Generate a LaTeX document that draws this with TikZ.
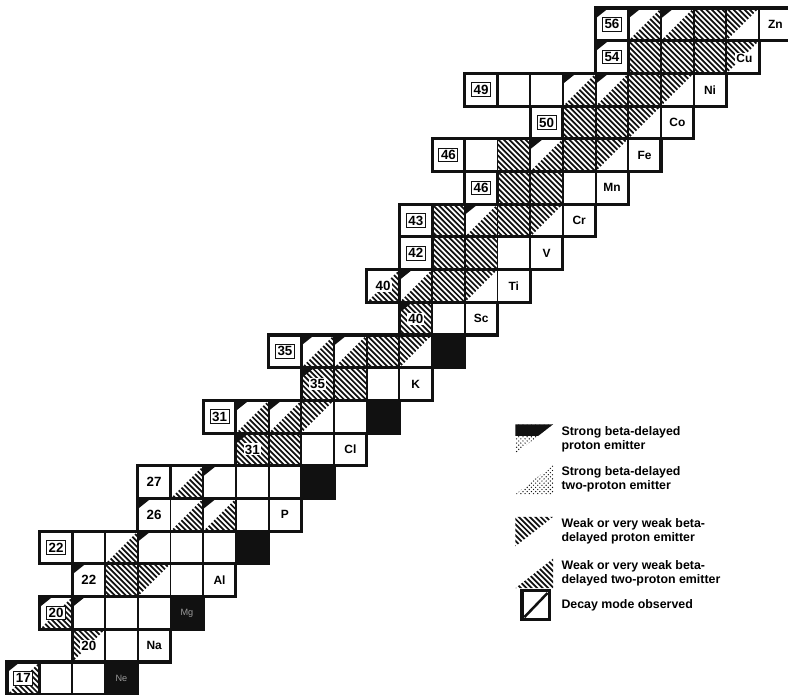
\documentclass[tikz,border=0pt]{standalone}
\usepackage{fontspec}
\setmainfont{Liberation Sans}
\usetikzlibrary{patterns}
\definecolor{ink}{HTML}{111111}
\definecolor{dim}{HTML}{9A9A9A}

% hatching: lines x+y=const, clipped by the caller
\newcommand{\hatchlines}[2]{%
  \foreach \k in {0,...,14}
    \draw[hatch] ({#1+\k/6+0.2},{#2-0.2}) -- ++(-1.6,1.6);}
\newcommand{\cellW}[2]{}
\newcommand{\cellB}[2]{\fill[ink] (#1,#2) rectangle ++(1,1);}
\newcommand{\cellH}[2]{\begin{scope}\clip (#1,#2) rectangle ++(1,1);\hatchlines{#1}{#2}\end{scope}}
\newcommand{\cellL}[2]{\begin{scope}\clip (#1,#2) -- ++(1,0) -- ++(0,1) -- cycle;\hatchlines{#1}{#2}\end{scope}}
\newcommand{\cellU}[2]{\begin{scope}\clip (#1,#2) -- ++(0,1) -- ++(1,0) -- cycle;\hatchlines{#1}{#2}\end{scope}}
\newcommand{\cellC}[2]{\fill[ink] ({#1},{#2+1}) -- ++(0.4,0) -- ++(-0.4,-0.32) -- cycle;}
\newcommand{\cellS}[2]{\cellL{#1}{#2}\cellC{#1}{#2}}
\newcommand{\cellT}[2]{\cellH{#1}{#2}\cellC{#1}{#2}}

\begin{document}
\begin{tikzpicture}[
  x=0.8175cm, y=0.8175cm,
  hatch/.style={ink, line width=1.25pt},
  cellline/.style={ink, line width=1.3pt},
  rowline/.style={ink, line width=2.2pt},
  obs/.style={draw=ink, line width=0.7pt, fill=white, inner sep=1.5pt,
    font=\fontsize{9.5}{10}\selectfont\bfseries},
  num/.style={fill=white, inner sep=0.9pt, font=\fontsize{9.5}{10}\selectfont\bfseries},
  elem/.style={fill=white, inner sep=0.8pt, font=\fontsize{8.5}{9}\selectfont\bfseries},
  elemdark/.style={text=dim, font=\fontsize{6.5}{7}\selectfont},
  stipple/.style={pattern=crosshatch dots, pattern color=ink},
  legtext/.style={align=left, inner sep=0pt, font=\fontsize{8.8}{10}\selectfont\bfseries}
]
\path[use as bounding box, fill=white] (6.786,10.021) rectangle (30.884,31.245);

% rows: Z / first N / last N / cells
\foreach \z/\a/\b/\row in {
  10/7/10/{7/S,8/W,9/W,10/B},
  11/9/11/{9/U,10/W,11/W},
  12/8/12/{8/S,9/C,10/W,11/W,12/B},
  13/9/13/{9/C,10/H,11/U,12/W,13/W},
  14/8/14/{8/W,9/W,10/L,11/C,12/W,13/W,14/B},
  15/11/15/{11/C,12/L,13/S,14/W,15/W},
  16/11/16/{11/W,12/L,13/C,14/W,15/W,16/B},
  17/14/17/{14/T,15/H,16/W,17/W},
  18/13/18/{13/W,14/S,15/S,16/U,17/W,18/B},
  19/16/19/{16/T,17/H,18/W,19/W},
  20/15/20/{15/W,16/S,17/S,18/H,19/U,20/B},
  21/19/21/{19/T,20/W,21/W},
  22/18/22/{18/L,19/S,20/H,21/U,22/W},
  23/19/23/{19/W,20/H,21/H,22/W,23/W},
  24/19/24/{19/W,20/H,21/S,22/H,23/U,24/W},
  25/21/25/{21/W,22/H,23/H,24/W,25/W},
  26/20/26/{20/W,21/W,22/H,23/S,24/H,25/U,26/W},
  27/23/27/{23/W,24/H,25/H,26/U,27/W},
  28/21/28/{21/W,22/W,23/W,24/S,25/S,26/H,27/U,28/W},
  29/25/29/{25/C,26/H,27/H,28/H,29/U},
  30/25/30/{25/C,26/S,27/S,28/H,29/U,30/W}}{
  \foreach \n/\code in \row {
    \csname cell\code\endcsname{\n}{\z}
    \draw[cellline] (\n,\z) rectangle ++(1,1);
  }
  \draw[rowline] (\a,\z) rectangle ({\b+1},{\z+1});
}

% cells where the decay mode was observed
\foreach \n/\z in {7/10,8/12,8/14,11/16,13/18,15/20,18/22,19/23,19/24,
                   21/25,20/26,23/27,21/28,25/29,25/30}
  \draw[rowline] (\n,\z) rectangle ++(1,1);

% mass numbers
\node[obs] (ne17) at (7.5,10.5) {17};
\node[num] (na20) at (9.5,11.5) {20};
\node[obs] (mg20) at (8.5,12.5) {20};
\node[num] (al22) at (9.5,13.5) {22};
\node[obs] (si22) at (8.5,14.5) {22};
\node[num] (p26) at (11.5,15.5) {26};
\node[num] (s27) at (11.5,16.5) {27};
\node[num] (cl31) at (14.5,17.5) {31};
\node[obs] (ar31) at (13.5,18.5) {31};
\node[num] (k35) at (16.5,19.5) {35};
\node[obs] (ca35) at (15.5,20.5) {35};
\node[num] (sc40) at (19.5,21.5) {40};
\node[num] (ti40) at (18.5,22.5) {40};
\node[obs] (v42) at (19.5,23.5) {42};
\node[obs] (cr43) at (19.5,24.5) {43};
\node[obs] (mn46) at (21.5,25.5) {46};
\node[obs] (fe46) at (20.5,26.5) {46};
\node[obs] (co50) at (23.5,27.5) {50};
\node[obs] (ni49) at (21.5,28.5) {49};
\node[obs] (cu54) at (25.5,29.5) {54};
\node[obs] (zn56) at (25.5,30.5) {56};

% element names
\node[elemdark] (ne) at (10.5,10.5) {Ne};
\node[elem] (na) at (11.5,11.5) {Na};
\node[elemdark] (mg) at (12.5,12.5) {Mg};
\node[elem] (al) at (13.5,13.5) {Al};
\node[elem] (p) at (15.5,15.5) {P};
\node[elem] (cl) at (17.5,17.5) {Cl};
\node[elem] (k) at (19.5,19.5) {K};
\node[elem] (sc) at (21.5,21.5) {Sc};
\node[elem] (ti) at (22.5,22.5) {Ti};
\node[elem] (v) at (23.5,23.5) {V};
\node[elem] (cr) at (24.5,24.5) {Cr};
\node[elem] (mn) at (25.5,25.5) {Mn};
\node[elem] (fe) at (26.5,26.5) {Fe};
\node[elem] (co) at (27.5,27.5) {Co};
\node[elem] (ni) at (28.5,28.5) {Ni};
\node[elem] (cu) at (29.55,29.45) {Cu};
\node[elem] (zn) at (30.5,30.5) {Zn};

% legend
\begin{scope}
  \clip (22.55,17.37) -- (22.55,18.27) -- (23.7,18.27) -- cycle;
  \fill[stipple] (22.5,17.3) rectangle (23.8,18.3);
  \fill[ink] (22.5,17.9) rectangle (23.8,18.3);
\end{scope}
\fill[stipple] (22.55,16.13) -- (23.7,16.13) -- (23.7,17.03) -- cycle;
\begin{scope}
  \clip (22.55,14.54) -- (22.55,15.44) -- (23.7,15.44) -- cycle;
  \hatchlines{22.55}{14.54}
\end{scope}
\begin{scope}
  \clip (22.55,13.26) -- (23.7,13.26) -- (23.7,14.16) -- cycle;
  \hatchlines{22.55}{13.26}
\end{scope}
\draw[ink, line width=2.2pt] (22.75,12.3) rectangle (23.6,13.18);
\draw[ink, line width=1.8pt] (22.82,12.37) -- (23.53,13.11);

\node[legtext, anchor=west] (leg1) at (23.95,17.82) {Strong beta-delayed\\proton emitter};
\node[legtext, anchor=west] (leg2) at (23.95,16.58) {Strong beta-delayed\\two-proton emitter};
\node[legtext, anchor=west] (leg3) at (23.95,14.99) {Weak or very weak beta-\\delayed proton emitter};
\node[legtext, anchor=west] (leg4) at (23.95,13.71) {Weak or very weak beta-\\delayed two-proton emitter};
\node[legtext, anchor=west] (leg5) at (23.95,12.74) {Decay mode observed};

\end{tikzpicture}
\end{document}
